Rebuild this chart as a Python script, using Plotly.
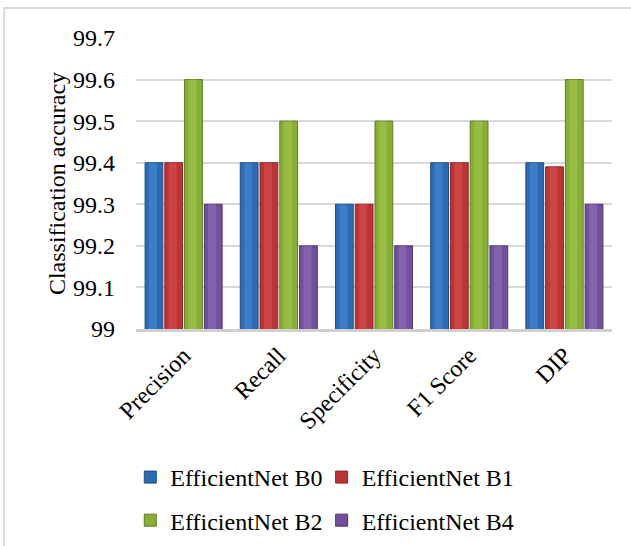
import plotly.graph_objects as go

categories = ["Precision", "Recall", "Specificity", "F1 Score", "DIP"]
series_names = ["EfficientNet B0", "EfficientNet B1", "EfficientNet B2", "EfficientNet B4"]
b0 = [99.4, 99.4, 99.3, 99.4, 99.4]
b1 = [99.4, 99.4, 99.3, 99.4, 99.39]
b2 = [99.6, 99.5, 99.5, 99.5, 99.6]
b4 = [99.3, 99.2, 99.2, 99.2, 99.3]
y_ticks = [99, 99.1, 99.2, 99.3, 99.4, 99.5, 99.6, 99.7]

# body colour, dark rim, light centre highlight for each series
body = ["#2E6AB3", "#BC3536", "#87AE37", "#73509C"]
rim = ["#1E4C84", "#8A2526", "#5E7C22", "#4E346F"]
shine = ["#4A8AD6", "#D9504F", "#A2C84E", "#9272BD"]

# one legend box per series laid out as a 2 x 2 grid
legend_ids = ["legend", "legend2", "legend3", "legend4"]
legend_x = [-0.012, 0.39, -0.012, 0.39]
legend_y = [-0.433, -0.433, -0.581, -0.581]

font_family = "Liberation Serif, Times New Roman, serif"

slot = 0.83 / 4          # width of one series slot within a category
bar_w = slot * 0.9       # drawn bar width

fig = go.Figure()
for j, (name, vals) in enumerate(zip(series_names, [b0, b1, b2, b4])):
    off = -0.415 + j * slot + (slot - bar_w) / 2
    fig.add_trace(go.Bar(
        x=categories, y=vals, name=name,
        offset=off, width=bar_w,
        marker=dict(color=body[j], line=dict(color=rim[j], width=1)),
        legendgroup=name, legend=legend_ids[j],
    ))
    # soft cylindrical sheen
    fig.add_trace(go.Bar(
        x=categories, y=vals, name=name, showlegend=False,
        offset=off + bar_w * 0.22, width=bar_w * 0.45,
        marker=dict(color=shine[j], opacity=0.55, line=dict(width=0)),
        legendgroup=name, hoverinfo="skip",
    ))

legends = {}
for lid, lx, ly in zip(legend_ids, legend_x, legend_y):
    legends[lid] = dict(
        orientation="h", xref="paper", x=lx, xanchor="left",
        y=ly, yanchor="top", font=dict(size=24),
        itemwidth=30, bgcolor="rgba(0,0,0,0)",
    )

fig.update_layout(
    width=631, height=546,
    paper_bgcolor="white", plot_bgcolor="white",
    margin=dict(l=136, r=19, t=38, b=217, autoexpand=False),
    barmode="overlay",
    font=dict(family=font_family, size=24, color="black"),
    showlegend=True,
    shapes=[dict(type="rect", xref="paper", yref="paper",
                 x0=-0.277, x1=1.2, y0=-0.9, y1=1.103,
                 line=dict(color="#D9D9D9", width=2), layer="below")],
    **legends,
)
fig.update_yaxes(
    range=[99, 99.7], tickvals=y_ticks,
    showgrid=True, gridcolor="#D9D9D9", gridwidth=2, zeroline=False,
    title=dict(text="Classification accuracy", font=dict(size=24), standoff=0),
    ticks="", tickfont=dict(size=24), ticklabelstandoff=20,
)
fig.update_xaxes(
    range=[-0.5, 4.5],
    tickangle=-45, showline=True, linecolor="#D0D0D0", linewidth=3,
    tickfont=dict(size=24), ticks="",
)

fig.write_html("out.html")
